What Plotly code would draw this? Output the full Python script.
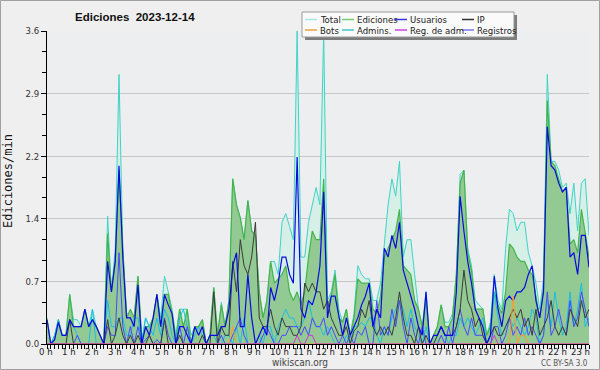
import plotly.graph_objects as go

# ---- data (10-minute steps, 144 per series) ----
hours = [i / 6 for i in range(144)]

total = [
0.30,0.00,0.10,0.28,0.10,0.10, 0.57,0.28,0.28,0.20,0.40,0.20,
0.40,0.20,0.10,0.00,1.47,0.60, 1.10,3.10,1.10,0.35,0.35,0.30,
0.78,0.05,0.30,0.20,0.30,0.57, 0.30,0.78,0.60,0.40,0.10,0.40,
0.40,0.40,0.10,0.20,0.20,0.28, 0.00,0.10,0.65,0.10,0.48,0.20,
0.50,1.90,1.60,1.45,1.20,1.65, 1.30,1.25,0.60,0.30,0.50,0.95,
0.95,0.80,1.40,1.50,1.35,1.20, 3.60,1.00,1.00,1.40,1.60,1.80,
1.60,3.60,0.50,0.60,0.85,0.40, 0.25,0.40,0.10,0.35,0.90,0.80,
0.75,0.75,0.50,0.50,0.70,1.15, 1.60,1.90,1.70,2.10,1.00,1.20,
1.20,0.80,0.40,0.20,0.60,0.00, 0.10,0.20,0.45,0.25,0.25,0.35,
0.80,1.95,2.00,1.10,0.90,0.50, 0.45,0.40,0.10,0.25,0.80,0.50,
0.40,1.10,1.55,1.50,1.30,1.40, 1.40,1.05,0.90,0.70,0.40,0.75,
3.10,2.10,2.10,2.00,1.80,1.85, 1.50,1.85,1.30,1.85,1.90,1.25]

ediciones = [
0.28,0.00,0.05,0.28,0.10,0.10, 0.57,0.20,0.20,0.20,0.40,0.20,
0.28,0.20,0.10,0.00,1.27,0.60, 0.95,2.00,1.10,0.30,0.40,0.30,
0.78,0.05,0.20,0.20,0.30,0.57, 0.20,0.57,0.57,0.35,0.05,0.40,
0.20,0.40,0.00,0.20,0.20,0.28, 0.00,0.10,0.65,0.10,0.45,0.20,
0.50,1.90,1.60,1.45,1.20,1.65, 1.30,1.25,0.60,0.30,0.50,0.95,
0.70,0.75,0.80,0.90,0.60,0.50, 0.60,0.45,0.60,1.00,1.30,1.20,
1.20,1.90,0.45,0.55,0.80,0.30, 0.25,0.40,0.10,0.30,0.75,0.70,
0.70,0.70,0.40,0.35,0.55,1.00, 1.10,1.20,1.30,1.55,0.90,0.85,
0.80,0.50,0.40,0.20,0.50,0.00, 0.10,0.20,0.45,0.20,0.20,0.30,
0.80,1.85,2.00,1.05,0.85,0.40, 0.40,0.40,0.10,0.20,0.60,0.45,
0.35,0.60,1.15,1.10,1.00,0.95, 0.95,0.85,0.80,0.55,0.30,0.65,
2.80,2.10,2.05,1.90,1.75,1.80, 1.15,1.20,1.05,1.55,1.30,1.00]

usuarios = [
0.28,0.00,0.05,0.25,0.10,0.10, 0.28,0.20,0.20,0.20,0.40,0.20,
0.28,0.20,0.10,0.00,0.95,0.60, 0.95,2.05,1.00,0.30,0.30,0.20,
0.68,0.00,0.20,0.10,0.30,0.57, 0.20,0.57,0.45,0.35,0.00,0.20,
0.20,0.10,0.00,0.20,0.10,0.20, 0.00,0.10,0.10,0.10,0.20,0.20,
0.40,0.90,1.05,0.20,0.20,0.80, 0.30,0.00,0.10,0.20,0.10,0.65,
0.50,0.70,1.00,1.00,0.80,0.70, 2.15,0.40,0.30,0.50,0.45,0.60,
0.90,1.75,0.30,0.55,0.55,0.30, 0.10,0.30,0.10,0.20,0.30,0.45,
0.55,0.70,0.20,0.40,0.30,1.10, 1.00,1.25,1.10,1.40,0.85,0.70,
0.55,0.40,0.20,0.10,0.60,0.00, 0.10,0.10,0.20,0.10,0.10,0.10,
0.60,1.70,1.30,0.95,0.70,0.40, 0.30,0.20,0.00,0.10,0.78,0.40,
0.20,0.50,0.55,0.50,0.60,0.60, 0.65,0.80,0.90,0.50,0.30,0.60,
2.50,2.05,2.00,1.85,1.75,1.80, 1.00,1.05,0.80,1.25,1.25,0.88]

ip = [
0.00,0.00,0.00,0.00,0.00,0.00, 0.28,0.00,0.00,0.00,0.00,0.00,
0.00,0.00,0.00,0.00,0.28,0.00, 0.10,0.30,0.10,0.00,0.10,0.00,
0.10,0.00,0.00,0.10,0.00,0.00, 0.00,0.28,0.00,0.00,0.00,0.10,
0.00,0.00,0.00,0.00,0.00,0.10, 0.00,0.00,0.60,0.00,0.20,0.10,
0.10,0.95,0.60,1.20,0.90,0.80, 1.00,1.40,0.30,0.20,0.20,0.40,
0.20,0.10,0.30,0.20,0.20,0.10, 0.10,0.20,0.70,0.60,0.70,0.60,
0.60,0.40,0.50,0.30,0.20,0.10, 0.10,0.20,0.00,0.15,0.20,0.40,
0.30,0.50,0.20,0.10,0.20,0.10, 0.20,0.10,0.30,0.60,0.30,0.10,
0.10,0.00,0.20,0.00,0.10,0.00, 0.00,0.10,0.20,0.10,0.10,0.10,
0.20,0.40,0.85,0.50,0.40,0.20, 0.30,0.10,0.00,0.10,0.20,0.10,
0.10,0.20,0.30,0.40,0.30,0.40, 0.20,0.30,0.10,0.40,0.10,0.20,
0.30,0.50,0.20,0.10,0.20,0.10, 0.40,0.30,0.20,0.50,0.30,0.40]

bots = [0.0] * 49 + [0.20] + [0.0] * 73 + [0.55, 0.0, 0.10, 0.10] + [0.0] * 17

admins = [
0.00,0.00,0.10,0.28,0.10,0.10, 0.28,0.20,0.10,0.00,0.00,0.00,
0.40,0.00,0.00,0.00,0.50,0.20, 0.20,0.30,0.30,0.10,0.10,0.30,
0.30,0.00,0.30,0.20,0.10,0.30, 0.10,0.40,0.30,0.10,0.00,0.30,
0.40,0.20,0.00,0.10,0.20,0.10, 0.00,0.10,0.10,0.00,0.00,0.10,
0.10,0.00,0.20,0.00,0.30,0.00, 0.00,0.00,0.10,0.00,0.20,0.20,
0.00,0.20,0.30,0.40,0.30,0.30, 0.20,0.20,0.30,0.50,0.30,0.20,
0.20,0.10,0.20,0.10,0.00,0.00, 0.00,0.10,0.00,0.20,0.20,0.25,
0.20,0.30,0.30,0.10,0.00,0.20, 0.10,0.30,0.40,0.50,0.40,0.20,
0.40,0.20,0.10,0.00,0.20,0.00, 0.00,0.10,0.20,0.10,0.00,0.10,
0.10,0.30,0.20,0.30,0.20,0.10, 0.20,0.30,0.00,0.10,0.60,0.30,
0.10,0.20,0.30,0.20,0.30,0.20, 0.10,0.20,0.40,0.30,0.00,0.10,
0.50,0.20,0.60,0.30,0.10,0.20, 0.60,0.20,0.40,0.70,0.20,0.30]

reg_adm = [0.0] * 66 + [0.10, 0.0, 0.0, 0.10, 0.10] + [0.0] * 47 + [0.10] + [0.0] * 25

registros = [
0.00,0.00,0.00,0.00,0.00,0.00, 0.00,0.00,0.10,0.00,0.00,0.00,
0.00,0.00,0.00,0.00,0.20,0.10, 0.10,1.05,0.20,0.00,0.20,0.00,
0.20,0.00,0.05,0.10,0.00,0.05, 0.00,0.30,0.10,0.00,0.00,0.20,
0.00,0.20,0.00,0.00,0.00,0.00, 0.00,0.00,0.00,0.00,0.10,0.00,
0.00,0.10,0.20,0.30,0.10,0.00, 0.00,0.00,0.00,0.10,0.20,0.10,
0.00,0.00,0.10,0.10,0.20,0.20, 0.20,0.10,0.20,0.10,0.30,0.20,
0.20,0.30,0.10,0.20,0.10,0.00, 0.10,0.00,0.10,0.00,0.15,0.10,
0.20,0.00,0.00,0.50,0.10,0.20, 0.10,0.40,0.20,0.50,0.20,0.00,
0.30,0.10,0.00,0.20,0.00,0.00, 0.00,0.00,0.10,0.00,0.20,0.00,
0.20,0.40,0.20,0.10,0.30,0.10, 0.10,0.10,0.00,0.00,0.20,0.20,
0.00,0.10,0.30,0.10,0.20,0.10, 0.30,0.10,0.20,0.10,0.00,0.10,
0.60,0.10,0.20,0.40,0.20,0.10, 0.50,0.20,0.30,0.60,0.40,0.20]

y_tickvals = [0, 0.72, 1.44, 2.16, 2.88, 3.6]
y_ticktext = ["0.0", "0.7", "1.4", "2.2", "2.9", "3.6"]
hour_labels = [f"{h} h" for h in range(24)]

legend_names = ["Total", "Ediciones", "Usuarios", "IP", "Bots", "Admins.", "Reg. de adm.", "Registros"]
legend_colors = ["#a8e6e4", "#74cf74", "#3636e0", "#333333", "#f0a040", "#40c4d6", "#d040e0", "#7a7af0"]

# ---- figure ----
W, H = 600, 370
L, R, T, B = 47, 589, 31, 344
def px(x):
    return (x - L) / (R - L)
def py(y):
    return (B - y) / (B - T)

COND = "DejaVu Sans Condensed, Liberation Sans, sans-serif"
SANS = "Liberation Sans, Arial, sans-serif"

fig = go.Figure()
fig.add_trace(go.Scatter(x=hours, y=total, mode="lines", line=dict(color="#3fd3c6", width=1),
                         fill="tozeroy", fillcolor="#d6f0e8", hoverinfo="skip"))
fig.add_trace(go.Scatter(x=hours, y=ediciones, mode="lines", line=dict(color="#44b44a", width=1.2),
                         fill="tozeroy", fillcolor="#93ca93", hoverinfo="skip"))
for series, color, w in [(admins, "#1cbde6", 1), (registros, "#4848ff", 1), (ip, "#3a3a3a", 1),
                         (usuarios, "#0a0ae0", 1.2), (bots, "#ff9a2a", 1), (reg_adm, "#d633d6", 1)]:
    fig.add_trace(go.Scatter(x=hours, y=series, mode="lines", line=dict(color=color, width=w),
                             hoverinfo="skip"))

shapes = []
annotations = []

# outer frame
shapes.append(dict(type="rect", xref="paper", yref="paper", x0=px(0.5), x1=px(W - 0.5),
                   y0=py(H - 0.5), y1=py(0.5), line=dict(color="#a0a0a0", width=1)))

# legend box with shadow
shapes.append(dict(type="rect", xref="paper", yref="paper", x0=px(305), x1=px(517),
                   y0=py(40), y1=py(15), line=dict(width=0), fillcolor="#7c7c7c"))
shapes.append(dict(type="rect", xref="paper", yref="paper", x0=px(302), x1=px(514),
                   y0=py(37), y1=py(12), line=dict(color="#999999", width=1), fillcolor="#fafafa"))
col_x = [305, 342, 395, 462]
row_y = [19.5, 30]
for k, (name, color) in enumerate(zip(legend_names, legend_colors)):
    cx = col_x[k % 4]
    cy = row_y[k // 4]
    shapes.append(dict(type="line", xref="paper", yref="paper", x0=px(cx), x1=px(cx + 12),
                       y0=py(cy), y1=py(cy), line=dict(color=color, width=1.5)))
    annotations.append(dict(text=name, xref="paper", yref="paper", x=px(cx + 13), y=py(cy),
                            xanchor="left", yanchor="middle", showarrow=False,
                            font=dict(family=COND, size=9.5, color="#222")))

# title
annotations.append(dict(text="<b>Ediciones\u00a0 2023-12-14</b>", xref="paper", yref="paper",
                        x=px(73), y=py(17), xanchor="left", yanchor="middle", showarrow=False,
                        font=dict(family=SANS, size=11.5, color="#111")))
# y title
annotations.append(dict(text="Ediciones/min", xref="paper", yref="paper", x=px(8), y=py(181),
                        xanchor="center", yanchor="middle", textangle=-90, showarrow=False,
                        font=dict(family="DejaVu Sans Mono, monospace", size=12, color="#111")))
# hour labels
for h, lab in enumerate(hour_labels):
    cx = 45.5 + 23.2 * h + (1.5 if h >= 10 else 0)
    annotations.append(dict(text=lab, xref="paper", yref="paper", x=px(cx), y=py(352),
                            xanchor="center", yanchor="middle", showarrow=False,
                            font=dict(family=COND, size=9.5, color="#222")))
annotations.append(dict(text="wikiscan.org", xref="paper", yref="paper", x=px(300), y=py(362),
                        xanchor="center", yanchor="middle", showarrow=False,
                        font=dict(family=COND, size=10, color="#444")))
annotations.append(dict(text="CC BY-SA 3.0", xref="paper", yref="paper", x=px(590), y=py(363),
                        xanchor="right", yanchor="middle", showarrow=False,
                        font=dict(family=COND, size=8, color="#555")))

fig.update_layout(
    width=W, height=H,
    margin=dict(l=L, r=W - R, t=T, b=H - B, pad=0),
    paper_bgcolor="#efefef", plot_bgcolor="#eceef0",
    showlegend=False,
    shapes=shapes, annotations=annotations,
    xaxis=dict(range=[0, 143 / 6], showgrid=False, zeroline=False, showline=True,
               linecolor="#000", linewidth=1, ticks="outside", tick0=0, dtick=1 / 6,
               ticklen=4, tickcolor="#000", tickwidth=1, showticklabels=False, fixedrange=True),
    yaxis=dict(range=[0, 3.6], tickvals=y_tickvals, ticktext=y_ticktext, showgrid=True,
               gridcolor="#c6c6c6", gridwidth=1, zeroline=False, showline=True, linecolor="#000",
               linewidth=1, ticks="outside", ticklen=5, tickcolor="#000",
               tickfont=dict(family=COND, size=9.5, color="#333"),
               minor=dict(tickvals=[0.24 * k for k in range(16) if k % 3], ticks="outside",
                          ticklen=4, tickcolor="#000", showgrid=False),
               fixedrange=True),
)

fig.write_html("out.html", config={"displayModeBar": False},
               post_script="document.body.style.margin='0';document.body.style.background='#efefef';")
